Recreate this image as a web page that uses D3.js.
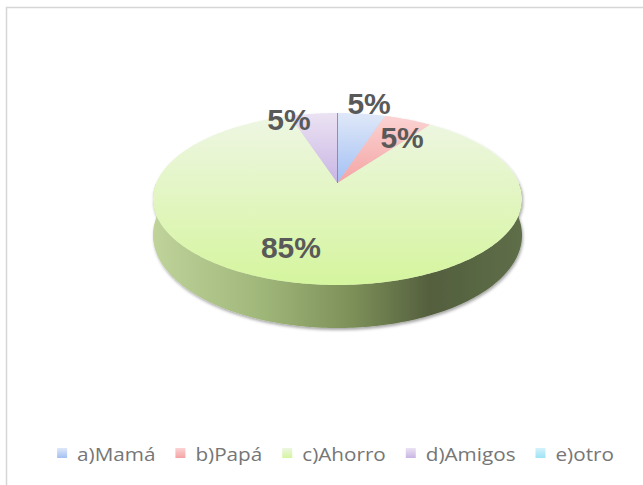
<!DOCTYPE html>
<html>
<head>
<meta charset="utf-8">
<script src="https://cdn.jsdelivr.net/npm/d3@7"></script>
<style>
  body { margin: 0; background: #fff; }
  svg { display: block; }
</style>
</head>
<body>
<svg id="chart"></svg>
<script>
// data
const categories = ["a)Mamá", "b)Papá", "c)Ahorro", "d)Amigos", "e)otro"];
const counts = [1, 1, 17, 1, 0];
const percentLabels = ["5%", "5%", "85%", "5%", ""];

const width = 643;
const height = 485;

// pie geometry (a tilted disc with a bit of perspective)
const cx = 337.5, cy = 183;
const rx = 181.3, ry = 83, persp = 0.186, depth = 35;

const topColors = d3.scaleOrdinal()
  .domain(categories)
  .range([["#dfe8f8", "#a3c0f4"], ["#fbd3d3", "#f4a4a4"], ["#eef6e3", "#d5f59e"],
          ["#ebe3f3", "#c9b5e4"], ["#d4f3fb", "#9fe3f5"]]);

// nudges for the percent labels (like excel's "best fit")
const labelNudge = {
  "a)Mamá": [7.6, 0, 1],
  "b)Papá": [-6, 28.4, 1],
  "c)Ahorro": [-27.4, 19.7, 0.6],
  "d)Amigos": [-24.6, 16.3, 1]
};

let svg = d3.select("#chart").attr("width", width).attr("height", height);
let defs = svg.append("defs");

svg.append("rect")
  .attr("x", 6.5).attr("y", 7.5)
  .attr("width", 700).attr("height", 600)
  .attr("fill", "#fff")
  .attr("stroke", "#d6d6d6")
  .attr("stroke-width", 1.5);

categories.forEach((c, i) => {
  let g = defs.append("linearGradient")
    .attr("id", "top" + i)
    .attr("x1", 0).attr("y1", 0).attr("x2", 0).attr("y2", 1);
  g.append("stop").attr("offset", 0).attr("stop-color", topColors(c)[0]);
  g.append("stop").attr("offset", 1).attr("stop-color", topColors(c)[1]);
});

let wallGrad = defs.append("linearGradient")
  .attr("id", "wall")
  .attr("gradientUnits", "userSpaceOnUse")
  .attr("x1", cx - rx * 1.02).attr("x2", cx + rx * 1.02)
  .attr("y1", 0).attr("y2", 0);
[[0, "#bfd39a"], [0.3, "#9fb679"], [0.55, "#7b8e57"], [0.75, "#545f3e"], [1, "#5e6e48"]]
  .forEach((s) => wallGrad.append("stop").attr("offset", s[0]).attr("stop-color", s[1]));

let shadow = defs.append("filter").attr("id", "shadow")
  .attr("x", "-10%").attr("y", "-10%").attr("width", "120%").attr("height", "130%");
shadow.append("feDropShadow")
  .attr("dx", 1).attr("dy", 2).attr("stdDeviation", 1.6)
  .attr("flood-color", "#000").attr("flood-opacity", 0.35);

// angle 0 = back of the disc, going clockwise
const project = (a, r, drop) => {
  let u = r * Math.sin(a);
  let v = -r * Math.cos(a);
  let s = 1 / (1 - persp * v);
  return [cx + rx * u * s, cy + ry * v * s + depth * s * (drop || 0)];
};

const arcPoints = (a0, a1, drop) => {
  let pts = [];
  let n = Math.max(2, Math.ceil((a1 - a0) / (Math.PI / 180)));
  for (let j = 0; j <= n; j++) pts.push(project(a0 + (a1 - a0) * j / n, 1, drop));
  return pts;
};

let pie = d3.pie().sort(null).value((d) => d.value);
let slices = pie(categories.map((c, i) => ({ name: c, value: counts[i], label: percentLabels[i], i: i })));

let line = d3.line();
let pieG = svg.append("g").attr("filter", "url(#shadow)");

// outer wall, only the front half shows
slices.forEach((d) => {
  let a0 = Math.max(d.startAngle, Math.PI / 2);
  let a1 = Math.min(d.endAngle, Math.PI * 1.5);
  if (a1 <= a0) return;
  let top = arcPoints(a0, a1, 0);
  let bottom = arcPoints(a0, a1, 1).reverse();
  pieG.append("path")
    .attr("d", line(top.concat(bottom)) + "Z")
    .attr("fill", "url(#wall)");
});

// top faces
slices.forEach((d) => {
  if (d.endAngle - d.startAngle <= 0) return;
  let pts = [[cx, cy]].concat(arcPoints(d.startAngle, d.endAngle, 0));
  pieG.append("path")
    .attr("d", line(pts) + "Z")
    .attr("fill", "url(#top" + d.data.i + ")");
});

// thin edge line at the start of the first slice
let edge = project(0, 1, 0);
svg.append("line")
  .attr("x1", cx).attr("y1", cy)
  .attr("x2", edge[0]).attr("y2", edge[1])
  .attr("stroke", "#6f819e")
  .attr("stroke-width", 0.8);

// percent labels
slices.forEach((d) => {
  if (!d.data.label) return;
  let nudge = labelNudge[d.data.name];
  let p = project((d.startAngle + d.endAngle) / 2, nudge[2], 0);
  svg.append("text")
    .attr("x", p[0] + nudge[0])
    .attr("y", p[1] + nudge[1])
    .attr("text-anchor", "middle")
    .attr("font-family", "'Liberation Sans', Arial, sans-serif")
    .attr("font-weight", "bold")
    .attr("font-size", 30)
    .attr("fill", "#595959")
    .text(d.data.label);
});

// legend
let legend = svg.append("g");
let stretch = 1.15;
let items = legend.selectAll("g.item")
  .data(categories)
  .enter()
  .append("g")
  .attr("class", "item");

items.append("rect")
  .attr("x", 0).attr("y", -13)
  .attr("width", 10).attr("height", 10)
  .attr("fill", (d, i) => "url(#top" + i + ")");

items.append("text")
  .attr("transform", "translate(20,0) scale(" + stretch + ",1)")
  .attr("font-family", "'Open Sans', sans-serif")
  .attr("font-size", 18)
  .attr("fill", "#767676")
  .text((d) => d);

let x = 0;
items.each(function () {
  let w = d3.select(this).select("text").node().getComputedTextLength() * stretch;
  d3.select(this).attr("transform", "translate(" + x + ",461)");
  x += 20 + w + 20;
});
let total = x - 20;
legend.attr("transform", "translate(" + (335.5 - total / 2) + ",0)");
</script>
</body>
</html>
